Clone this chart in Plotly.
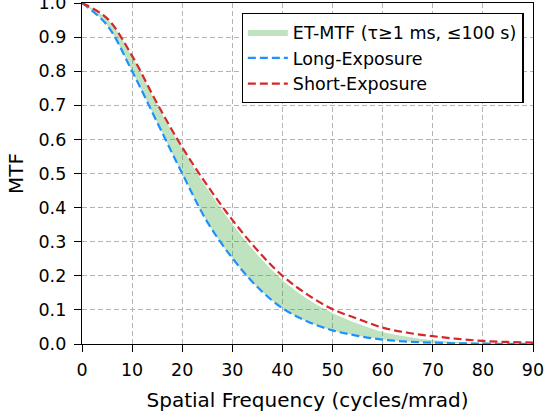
import plotly.graph_objects as go

# Spatial frequency (cycles/mrad)
freq = [0, 5, 10, 15, 20, 25, 30, 35, 40, 45, 50, 55, 60, 65, 70, 75, 80, 85, 90]

# Long-exposure MTF (blue dashed)
long_exposure = [1.0, 0.935, 0.80, 0.65, 0.50, 0.358, 0.252, 0.167, 0.105, 0.066,
                 0.040, 0.024, 0.013, 0.007, 0.004, 0.002, 0.001, 0.0005, 0.0002]

# Short-exposure MTF (red dashed)
short_exposure = [1.0, 0.955, 0.845, 0.705, 0.577, 0.465, 0.364, 0.275, 0.200, 0.145,
                  0.102, 0.074, 0.048, 0.033, 0.023, 0.015, 0.009, 0.006, 0.004]

# ET-MTF band bounds (tau >= 1 ms upper, <= 100 s lower)
et_upper = [1.0, 0.953, 0.843, 0.70, 0.572, 0.455, 0.352, 0.262, 0.188, 0.132,
            0.091, 0.060, 0.035, 0.021, 0.011, 0.006, 0.0035, 0.002, 0.001]
et_lower = long_exposure

x_ticks = [0, 10, 20, 30, 40, 50, 60, 70, 80, 90]
y_ticks = [0.0, 0.1, 0.2, 0.3, 0.4, 0.5, 0.6, 0.7, 0.8, 0.9, 1.0]

FONT = "DejaVu Sans"
fill_color = "rgba(44,160,44,0.3)"

fig = go.Figure()
fig.add_trace(go.Scatter(x=freq, y=et_lower, mode="lines", line=dict(width=0, shape="spline"),
                         showlegend=False, hoverinfo="skip"))
fig.add_trace(go.Scatter(x=freq, y=et_upper, mode="lines", line=dict(width=0, shape="spline"),
                         fill="tonexty", fillcolor=fill_color,
                         name="ET-MTF (τ≥1 ms, ≤100 s)"))
fig.add_trace(go.Scatter(x=freq, y=long_exposure, mode="lines",
                         line=dict(color="#1E90FF", width=2.2, dash="8px,4px", shape="spline"),
                         name="Long-Exposure"))
fig.add_trace(go.Scatter(x=freq, y=short_exposure, mode="lines",
                         line=dict(color="#D62728", width=2.2, dash="8px,4px", shape="spline"),
                         name="Short-Exposure"))

axis_common = dict(
    showline=True, linecolor="black", linewidth=1.4, mirror=True,
    ticks="outside", ticklen=7, tickwidth=1.3, tickcolor="black",
    showgrid=True, gridcolor="#b5b5b5", griddash="5px,3px", gridwidth=1,
    zeroline=False, automargin=False, ticklabeloverflow="allow",
    tickfont=dict(family=FONT, size=17.5, color="black"),
)

fig.update_layout(
    width=544, height=412,
    margin=dict(l=82, r=11, t=3, b=68),
    paper_bgcolor="white", plot_bgcolor="white",
    font=dict(family=FONT, color="black"),
    xaxis=dict(range=[0, 90], tickvals=x_ticks, ticklabelstandoff=3,
               title=dict(text="Spatial Frequency (cycles/mrad)",
                          font=dict(family=FONT, size=20), standoff=13),
               **axis_common),
    yaxis=dict(range=[0, 1], tickvals=y_ticks, tickformat=".1f", ticklabelstandoff=4,
               title=dict(text="MTF", font=dict(family=FONT, size=20), standoff=9),
               **axis_common),
    legend=dict(x=0.979, y=0.971, xanchor="right", yanchor="top",
                bgcolor="white", bordercolor="black", borderwidth=1.3,
                font=dict(family=FONT, size=17.5), itemwidth=40,
                traceorder="normal", tracegroupgap=0),
    showlegend=True,
)

fig.write_html("out.html", config={"displayModeBar": False},
               post_script="document.body.style.margin='0px';")
